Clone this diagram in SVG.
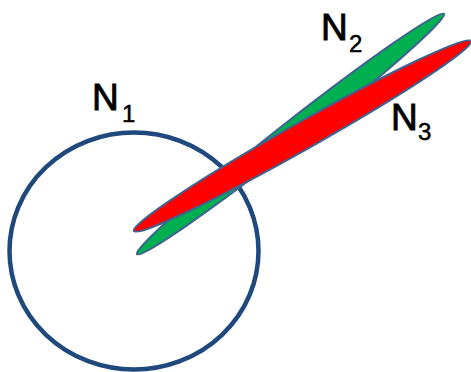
<svg xmlns="http://www.w3.org/2000/svg" width="471" height="372" viewBox="0 0 471 372">
<style>
.lbl{font-family:"Liberation Sans","Open Sans",sans-serif;fill:#000;stroke:#000;stroke-width:0.9}
.big{font-size:37px}
.sub{font-size:24px;stroke-width:0.5}
.lobe{stroke:#3E6391;stroke-width:2}
</style>
<rect width="471" height="372" fill="#fff"/>
<g id="N1">
<ellipse cx="134" cy="251" rx="124.5" ry="118.5" fill="none" stroke="#1F497D" stroke-width="4.5"/>
<text class="lbl" x="92" y="110"><tspan class="big" textLength="23">N</tspan><tspan class="sub" x="122" y="122">1</tspan></text>
</g>
<g id="N2">
<ellipse class="lobe" cx="290.5" cy="134" rx="195" ry="11.5" fill="#00B050" transform="rotate(-38.06 290.5 134)"/>
<text class="lbl" x="321" y="40"><tspan class="big" textLength="25">N</tspan><tspan class="sub" x="349" y="52">2</tspan></text>
</g>
<g id="N3">
<ellipse class="lobe" cx="302.5" cy="136" rx="193.6" ry="13.5" fill="#FF0000" transform="rotate(-29.38 302.5 136)"/>
<text class="lbl" x="391" y="130"><tspan class="big" textLength="25">N</tspan><tspan class="sub" x="418" y="140">3</tspan></text>
</g>
<g id="connectors"/>
</svg>
